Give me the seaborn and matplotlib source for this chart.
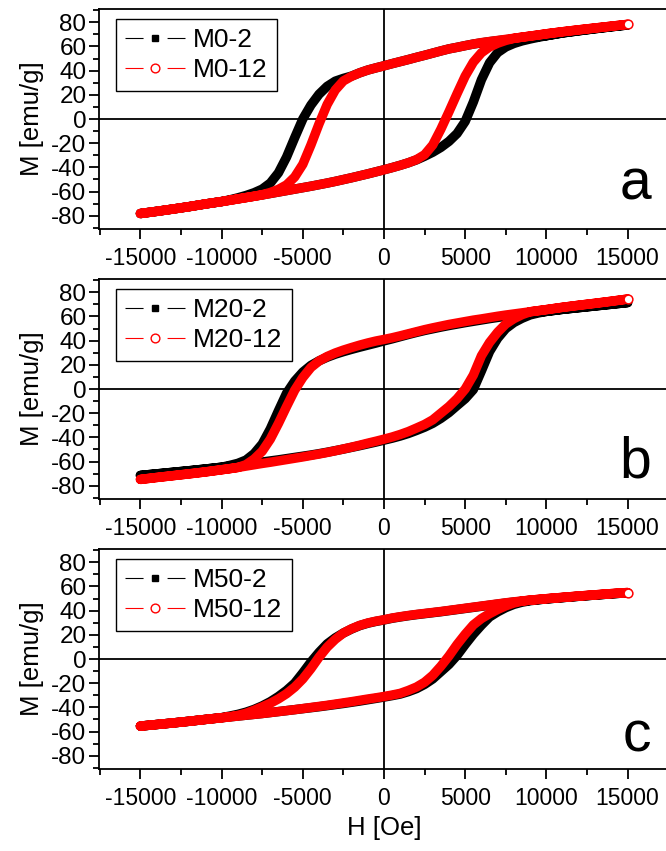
import matplotlib
matplotlib.use("Agg")
import matplotlib.pyplot as plt
import pandas as pd
import seaborn as sns
from matplotlib.lines import Line2D
from matplotlib.ticker import MultipleLocator

sns.set_theme(style="ticks")
plt.rcParams["font.family"] = ["Liberation Sans", "DejaVu Sans"]
plt.rcParams["axes.unicode_minus"] = False
plt.rcParams["lines.scale_dashes"] = False
for key in ["text.color", "axes.labelcolor", "xtick.color", "ytick.color",
            "axes.edgecolor"]:
    plt.rcParams[key] = "black"

# Applied field grid (Oe), shared by every branch
field_oe = [-15000, -14000, -13000, -12000, -11000, -10000,
            -9500, -9000, -8500, -8000, -7500, -7000, -6500, -6000, -5500, -5000,
            -4500, -4000, -3500, -3000, -2500, -2000, -1500, -1000, -500, 0,
            500, 1000, 1500, 2000, 2500, 3000, 3500, 4000, 4500, 5000,
            5500, 6000, 6500, 7000, 7500, 8000, 8500, 9000, 9500, 10000,
            11000, 12000, 13000, 14000, 15000]

# Magnetisation (emu/g) on the descending (upper) and ascending (lower) branches
m0_2_desc = [-78.2, -76.4, -74.5, -72.5, -70.3, -68.3,
             -66.9, -65.2, -63.3, -61.0, -58.0, -53.0, -44.5, -31.5, -15.5, 0.0,
             11.5, 20.5, 27.0, 31.3, 33.6, 35.5, 38.2, 40.5, 42.3, 44.0,
             45.8, 47.5, 49.2, 51.0, 52.7, 54.5, 56.3, 58.0, 59.3, 60.7,
             62.0, 63.0, 64.0, 64.8, 65.6, 66.3, 67.0, 67.6, 68.2, 68.9,
             71.2, 73.0, 74.7, 76.3, 77.8]
m0_2_asc = [-78.2, -76.4, -74.5, -72.5, -70.3, -68.3,
            -67.2, -66.1, -65.0, -63.9, -62.8, -61.6, -60.4, -59.2, -58.0, -56.8,
            -55.6, -54.3, -53.0, -51.6, -50.1, -48.6, -47.0, -45.4, -43.7, -42.0,
            -40.2, -38.3, -36.2, -33.8, -30.8, -27.5, -23.5, -18.5, -12.0, -2.0,
            14.0, 32.5, 46.5, 55.0, 59.6, 62.5, 64.6, 66.2, 67.6, 68.9,
            71.2, 73.0, 74.7, 76.3, 77.8]
m0_12_desc = [-78.2, -76.4, -74.5, -72.5, -70.3, -68.3,
              -67.2, -66.1, -65.0, -63.9, -62.6, -60.8, -58.2, -54.5, -48.0, -37.5,
              -21.5, -4.0, 12.0, 24.0, 31.5, 35.3, 38.2, 40.5, 42.3, 44.0,
              45.8, 47.5, 49.2, 51.0, 52.7, 54.5, 56.3, 58.0, 59.3, 60.7,
              62.0, 63.2, 64.1, 65.0, 65.9, 66.8, 67.7, 68.6, 69.5, 70.5,
              72.2, 73.8, 75.3, 76.8, 78.3]
m0_12_asc = [-78.2, -76.4, -74.5, -72.5, -70.3, -68.3,
             -67.2, -66.1, -65.0, -63.9, -62.8, -61.6, -60.4, -59.2, -58.0, -56.8,
             -55.6, -54.3, -53.0, -51.6, -50.1, -48.6, -47.0, -45.4, -43.7, -42.0,
             -40.2, -38.3, -36.2, -33.6, -29.5, -21.5, -8.5, 6.0, 21.0, 35.5,
             47.0, 54.8, 59.6, 62.7, 65.0, 66.7, 67.7, 68.6, 69.5, 70.5,
             72.2, 73.8, 75.3, 76.8, 78.3]

m20_2_desc = [-71.5, -70.2, -68.9, -67.6, -66.2, -64.7,
              -63.2, -61.5, -58.8, -53.5, -45.5, -33.0, -18.0, -3.5, 6.5, 14.0,
              19.5, 23.3, 26.3, 28.8, 30.9, 32.8, 34.6, 36.3, 38.0, 39.8,
              41.5, 43.3, 45.1, 46.8, 48.4, 49.8, 51.2, 52.5, 53.7, 54.9,
              56.0, 57.1, 58.2, 59.2, 60.2, 61.1, 61.9, 62.6, 63.5, 64.2,
              65.9, 67.3, 68.7, 70.1, 71.5]
m20_2_asc = [-71.5, -70.2, -68.9, -67.6, -66.2, -64.7,
             -63.9, -63.1, -62.2, -61.3, -60.4, -59.5, -58.6, -57.6, -56.6, -55.6,
             -54.6, -53.5, -52.3, -51.0, -49.7, -48.3, -46.9, -45.4, -43.9, -42.3,
             -40.7, -38.9, -36.8, -34.3, -31.6, -28.4, -24.3, -19.5, -13.7, -8.0,
             -0.5, 15.0, 31.0, 42.0, 50.0, 55.0, 58.5, 61.3, 62.9, 64.2,
             65.9, 67.3, 68.7, 70.1, 71.5]
m20_12_desc = [-74.8, -73.2, -71.7, -70.2, -68.6, -66.8,
               -65.9, -64.9, -62.6, -58.0, -51.5, -41.5, -28.5, -14.5, -1.0, 9.5,
               17.8, 23.2, 26.9, 29.8, 32.2, 34.3, 36.3, 38.1, 39.7, 41.0,
               42.4, 44.0, 45.7, 47.4, 49.1, 50.6, 52.0, 53.4, 54.6, 55.8,
               57.0, 58.0, 59.1, 60.2, 61.2, 62.1, 63.0, 63.9, 64.8, 65.7,
               67.6, 69.3, 70.9, 72.6, 74.4]
m20_12_asc = [-74.8, -73.2, -71.7, -70.2, -68.6, -66.8,
              -65.9, -64.9, -63.8, -62.7, -61.6, -60.6, -59.5, -58.4, -57.3, -56.2,
              -55.0, -53.8, -52.5, -51.1, -49.6, -48.1, -46.5, -44.8, -43.2, -41.5,
              -39.7, -37.6, -35.2, -32.3, -29.3, -25.5, -20.0, -14.5, -8.0, 0.0,
              11.5, 27.5, 38.5, 47.0, 53.8, 58.2, 61.5, 63.9, 64.8, 65.7,
              67.6, 69.3, 70.9, 72.6, 74.4]

m50_2_desc = [-55.5, -54.2, -52.9, -51.5, -50.0, -48.5,
              -47.2, -45.8, -44.0, -41.7, -38.8, -35.3, -31.0, -26.0, -20.0, -11.5,
              -2.5, 5.5, 12.5, 17.5, 21.5, 24.8, 27.6, 29.6, 31.1, 32.3,
              33.7, 34.8, 35.8, 36.7, 37.5, 38.3, 39.1, 40.0, 40.9, 41.8,
              42.7, 43.6, 44.5, 45.4, 46.3, 47.1, 47.8, 48.5, 49.1, 49.7,
              50.8, 51.9, 52.9, 53.9, 54.8]
m50_2_asc = [-55.5, -54.2, -52.9, -51.5, -50.0, -48.6,
             -47.9, -47.2, -46.5, -45.8, -45.1, -44.3, -43.5, -42.7, -41.9, -41.1,
             -40.3, -39.5, -38.6, -37.7, -36.8, -35.8, -34.8, -33.7, -32.6, -31.5,
             -30.3, -29.0, -27.0, -24.5, -21.0, -16.5, -10.5, -4.5, 3.0, 12.0,
             20.5, 28.0, 34.8, 39.0, 42.5, 45.2, 47.0, 48.2, 49.0, 49.7,
             50.8, 51.9, 52.9, 53.9, 54.8]
m50_12_desc = [-55.5, -54.2, -52.9, -51.5, -50.0, -48.6,
               -47.7, -46.6, -44.9, -42.4, -39.6, -36.6, -33.0, -28.7, -23.3, -16.5,
               -8.0, 1.5, 9.8, 16.3, 21.5, 25.0, 27.8, 29.8, 31.3, 32.5,
               33.9, 35.0, 36.0, 36.9, 37.7, 38.5, 39.3, 40.2, 41.1, 42.0,
               42.9, 43.8, 44.7, 45.6, 46.5, 47.3, 48.0, 48.7, 49.3, 49.9,
               51.0, 52.1, 53.1, 54.1, 55.0]
m50_12_asc = [-55.5, -54.2, -52.9, -51.5, -50.0, -48.6,
              -47.9, -47.2, -46.5, -45.8, -45.1, -44.3, -43.5, -42.7, -41.9, -41.0,
              -40.1, -39.2, -38.3, -37.3, -36.3, -35.3, -34.2, -33.1, -32.1, -31.0,
              -29.8, -28.4, -26.0, -23.2, -19.2, -13.5, -6.0, 2.5, 12.0, 20.5,
              28.2, 33.5, 37.5, 41.0, 44.0, 46.3, 47.9, 48.7, 49.3, 49.9,
              51.0, 52.1, 53.1, 54.1, 55.0]

panel_letters = ["a", "b", "c"]
sample_labels = [["M0-2", "M0-12"], ["M20-2", "M20-12"], ["M50-2", "M50-12"]]
loops = [[(m0_2_desc, m0_2_asc), (m0_12_desc, m0_12_asc)],
         [(m20_2_desc, m20_2_asc), (m20_12_desc, m20_12_asc)],
         [(m50_2_desc, m50_2_asc), (m50_12_desc, m50_12_asc)]]
series_colors = ["black", "red"]

W, H = 666, 851
fig = plt.figure(figsize=(W / 100, H / 100), dpi=100)

ax_left, ax_right = 99, 669
panel_bottoms = [229, 499, 769]
panel_h = 220
letter_base = [200, 478, 752]


def loop_frame(desc, asc):
    """Full measurement loop: +Hmax -> -Hmax -> +Hmax."""
    h = list(reversed(field_oe)) + list(field_oe)
    m = list(reversed(desc)) + list(asc)
    return pd.DataFrame({"H": h, "M": m})


for i in range(3):
    ax = fig.add_axes([ax_left / W, 1 - panel_bottoms[i] / H,
                       (ax_right - ax_left) / W, panel_h / H])
    ax.axhline(0, color="black", lw=1.3, zorder=1)
    ax.axvline(0, color="black", lw=1.3, zorder=1)

    for (desc, asc), col in zip(loops[i], series_colors):
        df = loop_frame(desc, asc)
        sns.lineplot(data=df, x="H", y="M", sort=False, estimator=None,
                     color=col, lw=6.8, ax=ax, legend=False, zorder=3,
                     solid_joinstyle="round", solid_capstyle="round")
    # last measured point of the red loop, drawn as an open circle
    last = loop_frame(*loops[i][1]).iloc[-1]
    ax.plot([last["H"]], [last["M"]], marker="o", ms=6.3, mfc="white",
            mec="red", mew=1.1, zorder=4)

    ax.set_xlim(-17550, 17550)
    ax.set_ylim(-91, 91)
    ax.xaxis.set_minor_locator(MultipleLocator(2500))
    ax.yaxis.set_minor_locator(MultipleLocator(10))
    ax.set_xticks([-15000, -10000, -5000, 0, 5000, 10000, 15000])
    ax.set_yticks([-80, -60, -40, -20, 0, 20, 40, 60, 80])
    ax.tick_params(which="both", direction="out", width=1.3, colors="black",
                   top=False, right=False)
    ax.tick_params(axis="x", which="major", length=7.5, pad=5.5,
                   labelsize=16.5)
    ax.tick_params(axis="x", which="minor", length=4.5)
    ax.tick_params(axis="y", which="major", length=7.5, pad=1.5,
                   labelsize=17.5)
    ax.tick_params(axis="y", which="minor", length=4)
    for side in ["left", "bottom", "top", "right"]:
        ax.spines[side].set_linewidth(1.3)
        ax.spines[side].set_color("black")

    ax.set_ylabel("M [emu/g]", fontsize=18.5, labelpad=5)
    if i == 2:
        ax.set_xlabel("H [Oe]", fontsize=18.5, labelpad=4)
    else:
        ax.set_xlabel("")

    ax.text((651 - ax_left) / (ax_right - ax_left),
            (panel_bottoms[i] - letter_base[i]) / panel_h,
            panel_letters[i], transform=ax.transAxes, ha="right",
            va="baseline", fontsize=41)

    handles = [
        Line2D([], [], color="black", lw=0.8, linestyle=(0, (13, 17.3)),
               marker="s", ms=4.8, mfc="black", mec="black"),
        Line2D([], [], color="red", lw=0.8, linestyle=(0, (13, 17.3)),
               marker="o", ms=6.3, mfc="white", mec="red", mew=1.0),
    ]
    leg = ax.legend(handles, sample_labels[i], loc="upper left",
                    bbox_to_anchor=((116 - ax_left) / (ax_right - ax_left),
                                    1 - 10 / panel_h),
                    borderaxespad=0, fontsize=19, handlelength=2.27,
                    handletextpad=0.3, borderpad=0.35, labelspacing=0.22,
                    numpoints=1, frameon=True, fancybox=False, framealpha=1,
                    edgecolor="black")
    leg.get_frame().set_linewidth(1.0)

fig.savefig("out.png", dpi=100)
